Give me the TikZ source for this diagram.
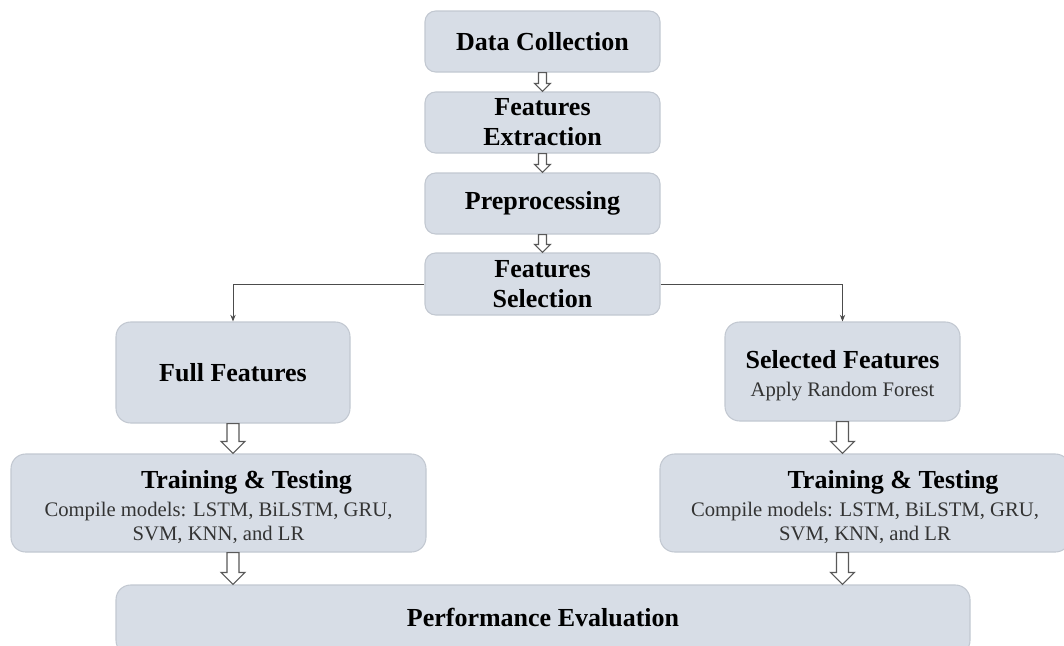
\documentclass[tikz,border=0pt]{standalone}
\usepackage{fontspec}
\setmainfont{Liberation Serif}
\usetikzlibrary{calc,arrows.meta}
\newcommand\tfont{\bfseries\fontsize{19.5}{22.5}\selectfont\color{black}}
\newcommand\sfont{\mdseries\fontsize{15.5}{18}\selectfont\color{black!80}}
\definecolor{boxfill}{HTML}{D7DDE6}
\definecolor{boxline}{HTML}{C2C8D1}
\newcommand\barrow[5]{%
  \draw[blockarrow] let \p1=#1, \p2=#2 in
    (\x1-#3,\y1) -- (\x1-#3,\y2+#5) -- (\x1-#4,\y2+#5) -- (\x1,\y2)
    -- (\x1+#4,\y2+#5) -- (\x1+#3,\y2+#5) -- (\x1+#3,\y1) -- cycle;}
\begin{document}
\begin{tikzpicture}[x=0.75pt,y=-0.75pt,
  box/.style={draw=boxline,fill=boxfill,line width=0.8pt,rounded corners=8pt,
    align=center,inner sep=0pt,font=\tfont},
  bigbox/.style={box,rounded corners=11pt},
  twobox/.style={bigbox,font=\sfont},
  blockarrow/.style={draw=black!65,fill=white,line width=0.8pt},
  link/.style={draw=black!70,line width=0.6pt,-{Stealth[length=5pt,width=4pt]}}]
\useasboundingbox (0,0) rectangle (1064,646);
\node[box,minimum width=176.25pt,minimum height=45.75pt] (dc) at (542.5,41.5) {Data Collection};
\node[box,minimum width=176.25pt,minimum height=45.75pt] (fe) at (542.5,122.5) {Features\\Extraction};
\node[box,minimum width=176.25pt,minimum height=45.75pt] (pp) at (542.5,203.5) {Preprocessing};
\node[box,minimum width=176.25pt,minimum height=46.5pt] (fs) at (542.5,284) {Features\\Selection};
\node[bigbox,minimum width=175.5pt,minimum height=75.75pt] (ff) at (233,372.5) {Full Features};
\node[twobox,minimum width=176.25pt,minimum height=74.25pt] (sf) at (842.5,371.5)
  {{\tfont\rule{0pt}{20pt}Selected Features}\\[3pt]Apply Random Forest};
\node[twobox,minimum width=311.25pt,minimum height=73.5pt] (trl) at (218.5,503)
  {{\tfont\rule{0pt}{20pt}\hspace*{42pt}Training \& Testing}\\[3pt]Compile models: LSTM, BiLSTM, GRU,\\SVM, KNN, and LR};
\node[twobox,minimum width=307.5pt,minimum height=73.5pt] (trr) at (865,503)
  {{\tfont\rule{0pt}{20pt}\hspace*{42pt}Training \& Testing}\\[3pt]Compile models: LSTM, BiLSTM, GRU,\\SVM, KNN, and LR};
\node[bigbox,minimum width=640.5pt,minimum height=52.5pt] (pe) at (543,620) {};
\node[font=\tfont] (pet) at ($(pe.center)+(0,-3)$) {Performance Evaluation};
\barrow{(dc.south)}{(fe.north)}{3pt}{6pt}{6pt}
\barrow{(fe.south)}{(pp.north)}{3pt}{6pt}{6pt}
\barrow{(pp.south)}{(fs.north)}{3pt}{6pt}{6pt}
\barrow{(ff.south)}{(ff.south |- trl.north)}{4.5pt}{9pt}{9pt}
\barrow{(sf.south)}{(sf.south |- trr.north)}{4.5pt}{9pt}{9pt}
\barrow{(ff.south |- trl.south)}{(ff.south |- pe.north)}{4.5pt}{9pt}{9pt}
\barrow{(sf.south |- trr.south)}{(sf.south |- pe.north)}{4.5pt}{9pt}{9pt}
\draw[link] (fs.west) -| (ff.north);
\draw[link] (fs.east) -| (sf.north);
\end{tikzpicture}
\end{document}
